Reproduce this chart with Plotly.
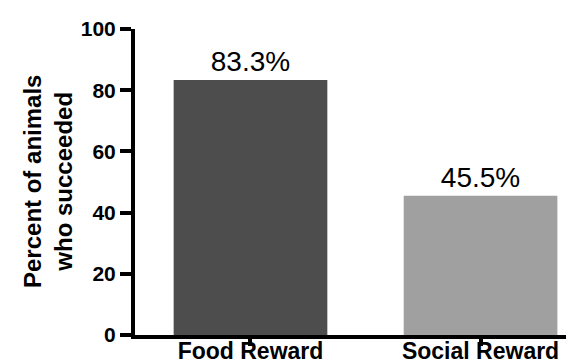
import plotly.graph_objects as go

categories = ["Food Reward", "Social Reward"]
percent_succeeded = [83.3, 45.5]
bar_labels = ["83.3%", "45.5%"]
bar_colors = ["#4d4d4d", "#a0a0a0"]
y_ticks = [0, 20, 40, 60, 80, 100]

FONT = "Arial, Liberation Sans, Helvetica, sans-serif"

fig = go.Figure(
    go.Bar(
        x=categories,
        y=percent_succeeded,
        text=bar_labels,
        textposition="outside",
        textfont=dict(family=FONT, size=28, color="black"),
        marker=dict(color=bar_colors, line=dict(width=0)),
        width=0.668,
        cliponaxis=False,
    )
)

fig.update_layout(
    width=574,
    height=364,
    margin=dict(l=127, r=0, t=21, b=37),
    paper_bgcolor="white",
    plot_bgcolor="white",
    showlegend=False,
    font=dict(family=FONT, color="black"),
    xaxis=dict(
        range=[-0.502, 1.441],
        automargin=False,
        showline=True,
        linecolor="black",
        linewidth=4,
        ticks="outside",
        ticklen=7,
        tickwidth=4,
        tickcolor="black",
        ticklabelstandoff=-15,
        tickfont=dict(family=FONT, size=23, color="black", weight="bold"),
        showgrid=False,
        zeroline=False,
    ),
    yaxis=dict(
        range=[0, 100],
        automargin=False,
        tickvals=y_ticks,
        showline=True,
        linecolor="black",
        linewidth=4,
        ticks="outside",
        ticklen=11,
        tickwidth=4,
        tickcolor="black",
        tickfont=dict(family=FONT, size=21, color="black", weight="bold"),
        showgrid=False,
        zeroline=False,
    ),
    annotations=[
        dict(
            text="<b>Percent of animals<br>who succeeded</b>",
            xref="paper",
            yref="paper",
            x=0.0,
            y=0.5,
            xshift=-87,
            textangle=-90,
            showarrow=False,
            xanchor="center",
            yanchor="middle",
            font=dict(family=FONT, size=24, color="black"),
        )
    ],
)

fig.write_html("out.html")
